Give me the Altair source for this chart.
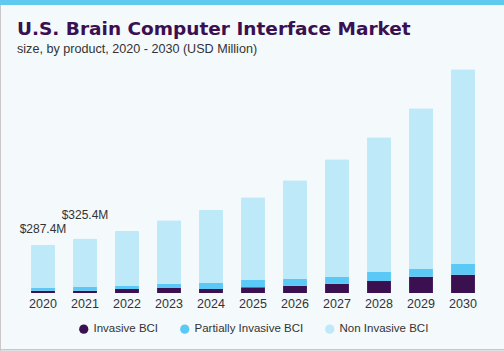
import altair as alt
import pandas as pd

years = ["2020", "2021", "2022", "2023", "2024", "2025", "2026", "2027", "2028", "2029", "2030"]
totals = [287.4, 325.4, 369, 434, 494, 571, 672, 797, 928, 1101, 1333]
invasive = [14, 14, 24, 30, 24, 34, 43, 55, 71, 97, 109]
partial = [16, 22, 18, 24, 37, 43, 40, 40, 55, 46, 65]
non_invasive = [round(t - a - b, 1) for t, a, b in zip(totals, invasive, partial)]

products = ["Invasive BCI", "Partially Invasive BCI", "Non Invasive BCI"]
colors = ["#3a1050", "#5bc9f5", "#bde9f9"]
label_text = {"2020": "$287.4M", "2021": "$325.4M"}
title_text = "U.S. Brain Computer Interface Market"
subtitle_text = "size, by product, 2020 - 2030 (USD Million)"

rows = []
for i, y in enumerate(years):
    for k, (p, vals) in enumerate(zip(products, [invasive, partial, non_invasive])):
        rows.append({"year": y, "product": p, "value": vals[i], "ord": k})
df = pd.DataFrame(rows)
tot_df = pd.DataFrame({"year": years, "total": totals,
                       "label": [label_text.get(y, "") for y in years]})
one = pd.DataFrame({"t": [title_text], "s": [subtitle_text]})

FONT = "Liberation Sans"

x_enc = alt.X("year:N", sort=years,
              scale=alt.Scale(paddingInner=0.43, paddingOuter=0.215),
              axis=alt.Axis(title=None, labelAngle=0, domain=False, ticks=False,
                            labelPadding=4, labelFontSize=12.5, labelColor="#333333",
                            labelFont=FONT))

bars = alt.Chart(df).mark_bar(cornerRadiusTopLeft=1, cornerRadiusTopRight=1).encode(
    x=x_enc,
    y=alt.Y("value:Q", stack="zero", scale=alt.Scale(domain=[0, 1400], nice=False),
            axis=None),
    color=alt.Color("product:N", sort=products,
                    scale=alt.Scale(domain=products, range=colors),
                    legend=alt.Legend(title=None, orient="none", direction="horizontal",
                                      legendX=56, legendY=265, symbolType="circle",
                                      symbolSize=85, symbolStrokeWidth=0,
                                      labelFontSize=11.5, labelColor="#333333",
                                      labelFont=FONT, columnPadding=20,
                                      symbolOpacity=1)),
    order=alt.Order("ord:Q", sort="ascending"),
)

lab1 = alt.Chart(tot_df).transform_filter(alt.datum.year == "2020").mark_text(
    dy=-12, baseline="alphabetic", fontSize=12, color="#333333", font=FONT
).encode(x=alt.X("year:N", sort=years), y=alt.Y("total:Q"), text="label:N")

lab2 = alt.Chart(tot_df).transform_filter(alt.datum.year == "2021").mark_text(
    dy=-19, baseline="alphabetic", fontSize=12, color="#333333", font=FONT
).encode(x=alt.X("year:N", sort=years), y=alt.Y("total:Q"), text="label:N")

title = alt.Chart(one).mark_text(
    align="left", baseline="alphabetic", font="DejaVu Sans", fontSize=18.5,
    fontWeight="bold", color="#3a1050"
).encode(x=alt.value(-5), y=alt.value(-23), text="t:N")

subtitle = alt.Chart(one).mark_text(
    align="left", baseline="alphabetic", font=FONT, fontSize=12.6, color="#333333"
).encode(x=alt.value(-5), y=alt.value(-5), text="s:N")

strip = alt.Chart(one).mark_rect(color="#5fc9f0").encode(
    x=alt.value(-22), x2=alt.value(482), y=alt.value(-58), y2=alt.value(-53))
left_border = alt.Chart(one).mark_rule(color="#c8c8c8", strokeWidth=1).encode(
    x=alt.value(-21.5), y=alt.value(-53), y2=alt.value(293))
bottom_border = alt.Chart(one).mark_rule(color="#c8c8c8", strokeWidth=1.5).encode(
    x=alt.value(-22), x2=alt.value(482), y=alt.value(291.8))

chart = alt.layer(bars, lab1, lab2, title, subtitle, strip, left_border,
                  bottom_border).properties(
    width=462, height=235,
    autosize=alt.AutoSizeParams(type="none"),
    padding={"left": 22, "top": 58, "right": 20, "bottom": 58},
    background="#f4f9fc",
).configure_view(stroke=None)

chart.save("out.html", embed_options={"renderer": "svg", "actions": False})
